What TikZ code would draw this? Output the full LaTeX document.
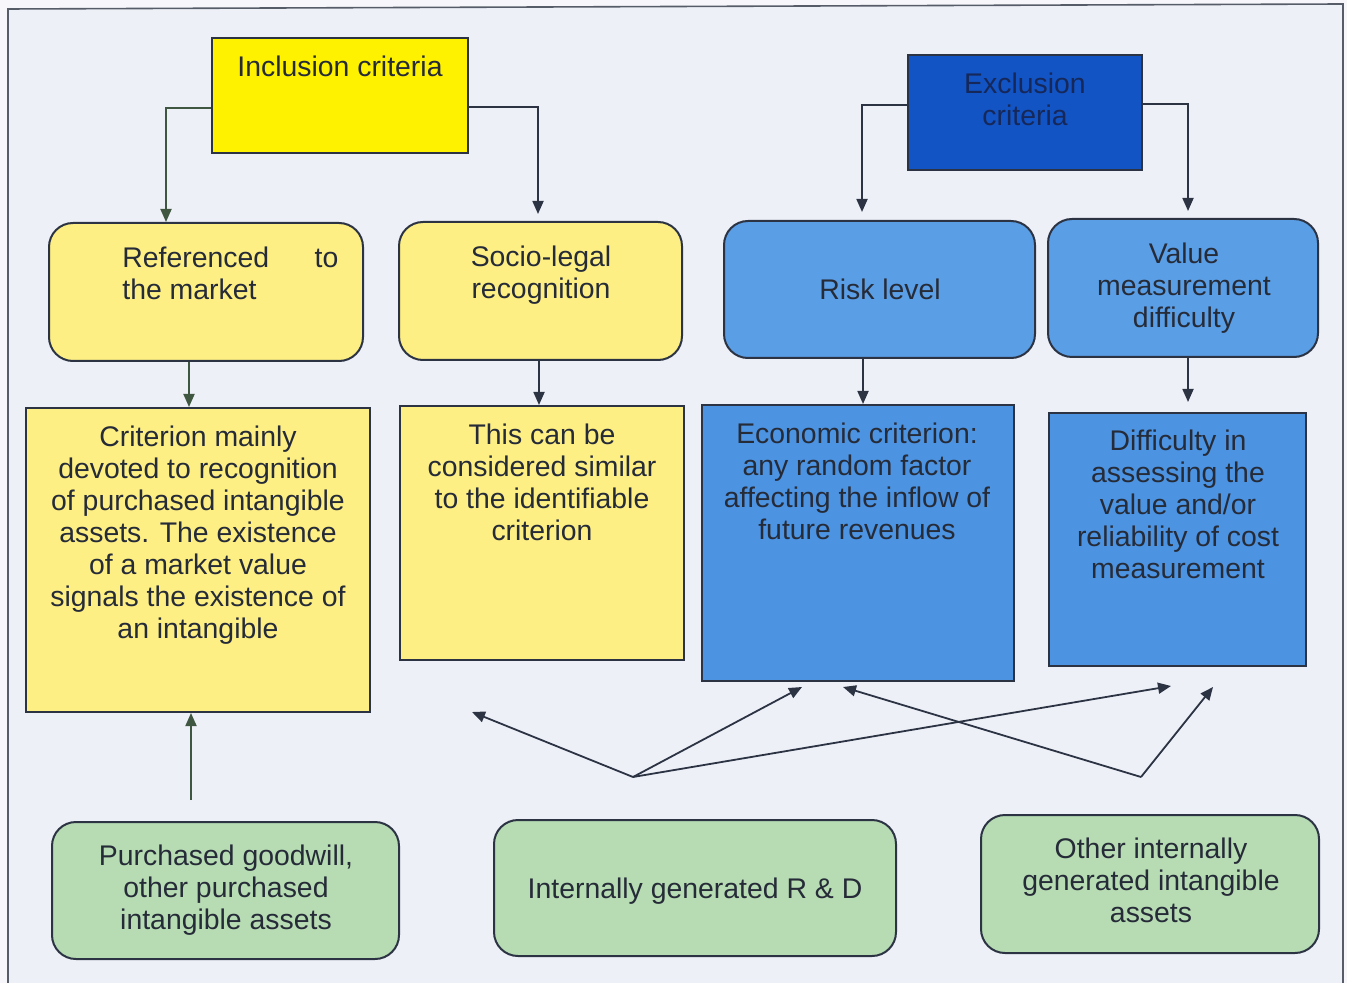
\documentclass[tikz,border=0pt]{standalone}
\usepackage{fontspec}
\setmainfont{Liberation Sans}
\usetikzlibrary{fit,arrows.meta}
\definecolor{outbg}{HTML}{F7F7FB}
\definecolor{bgc}{HTML}{EEF0F8}
\definecolor{ylw}{HTML}{FFF200}
\definecolor{lylw}{HTML}{FDEF84}
\definecolor{dblue}{HTML}{1254C4}
\definecolor{lblue}{HTML}{5A9EE6}
\definecolor{mblue}{HTML}{4C93E2}
\definecolor{lgreen}{HTML}{B7DCB3}
\definecolor{edgec}{HTML}{2C3444}
\definecolor{garr}{HTML}{3F5740}
\definecolor{txtc}{HTML}{262B38}
\definecolor{navytxt}{HTML}{16285A}
\begin{document}
\begin{tikzpicture}[x=0.5pt,y=-0.5pt,
  box/.style={draw=edgec, line width=1pt, inner sep=0pt},
  rbox/.style={box, rounded corners=12pt},
  txt/.style={font=\fontsize{14.2}{16}\selectfont, text=txtc, align=center, inner sep=0pt, anchor=north},
  arr/.style={-{Triangle[length=6.5pt,width=5.5pt]}, line width=0.9pt, draw=edgec},
  garrow/.style={arr, draw=garr}]
\useasboundingbox (0,0) rectangle (1347,983);
\fill[outbg] (0,0) rectangle (1347,983);
\fill[bgc] (8,9) -- (1343,4) -- (1343,983) -- (8,983) -- cycle;
\draw[edgec!80, line width=0.8pt] (8,983) -- (8,9) -- (1343,4) -- (1343,983);

% boxes
\node[box, fill=ylw, fit={(212,38) (468,153)}] (inc) {};
\node[box, fill=dblue, fit={(908,55) (1142,170)}] (exc) {};
\node[rbox, fill=lylw, fit={(49,223) (363,361)}] (ref) {};
\node[rbox, fill=lylw, fit={(399,222) (682,360)}] (soc) {};
\node[rbox, fill=lblue, fit={(724,221) (1035,358)}] (risk) {};
\node[rbox, fill=lblue, fit={(1048,219) (1318,357)}] (val) {};
\node[box, fill=lylw, fit={(26,408) (370,712)}] (crit) {};
\node[box, fill=lylw, fit={(400,406) (684,660)}] (sim) {};
\node[box, fill=mblue, fit={(702,405) (1014,681)}] (econ) {};
\node[box, fill=mblue, fit={(1049,413) (1306,666)}] (diff) {};
\node[rbox, fill=lgreen, fit={(52,822) (399,959)}] (pur) {};
\node[rbox, fill=lgreen, fit={(494,820) (896,956)}] (rnd) {};
\node[rbox, fill=lgreen, fit={(981,815) (1319,953)}] (oth) {};

% texts
\node[txt] (t-inc) at (340,56) {Inclusion criteria};
\node[txt, text=navytxt] (t-exc) at (1025,73) {Exclusion\\criteria};
\node[txt, anchor=north west, align=left] (t-ref) at (122,247) {\makebox[108pt][l]{Referenced\hfill to}\\the market};
\node[txt] (t-soc) at (541,246) {Socio-legal\\recognition};
\node[txt] (t-risk) at (880,279) {Risk level};
\node[txt] (t-val) at (1184,243) {Value\\measurement\\difficulty};
\node[txt] (t-crit) at (198,426) {Criterion mainly\\devoted to recognition\\of purchased intangible\\assets. The existence\\of a market value\\signals the existence of\\an intangible};
\node[txt] (t-sim) at (542,424) {This can be\\considered similar\\to the identifiable\\criterion};
\node[txt] (t-econ) at (857,423) {Economic criterion:\\any random factor\\affecting the inflow of\\future revenues};
\node[txt] (t-diff) at (1178,430) {Difficulty in\\assessing the\\value and/or\\reliability of cost\\measurement};
\node[txt] (t-pur) at (226,845) {Purchased goodwill,\\other purchased\\intangible assets};
\node[txt] (t-rnd) at (695,878) {Internally generated R \& D};
\node[txt] (t-oth) at (1151,838) {Other internally\\generated intangible\\assets};

% connectors from criteria
\draw[garrow] (inc.west |- 0,108) -| (ref.north -| 166,0);
\draw[arr, shorten >=3.5pt] (inc.east |- 0,107) -| (soc.north -| 538,0);
\draw[arr, shorten >=4pt] (exc.west |- 0,105) -| (risk.north -| 862,0);
\draw[arr, shorten >=3.5pt] (exc.east |- 0,104) -| (val.north -| 1188,0);

\draw[garrow] (ref.south -| 189,0) -- (crit.north -| 189,0);
\draw[arr] (soc.south -| 539,0) -- (sim.north -| 539,0);
\draw[arr] (risk.south -| 863,0) -- (econ.north -| 863,0);
\draw[arr, shorten >=5pt] (val.south -| 1188,0) -- (diff.north -| 1188,0);

% bottom connectors
\coordinate (p0) at (191,800);
\draw[garrow] (p0) -- (crit.south -| 191,0);

\coordinate (A) at (633,777);
\coordinate (B) at (1141,777);
\coordinate (a1) at (472,712);
\coordinate (a2) at (802,687);
\coordinate (a3) at (1171,686);
\coordinate (b1) at (843,687);
\coordinate (b2) at (1213,687);
\draw[arr] (A) -- (a1);
\draw[arr] (A) -- (a2);
\draw[arr] (A) -- (a3);
\draw[arr] (B) -- (b1);
\draw[arr] (B) -- (b2);
\end{tikzpicture}
\end{document}
